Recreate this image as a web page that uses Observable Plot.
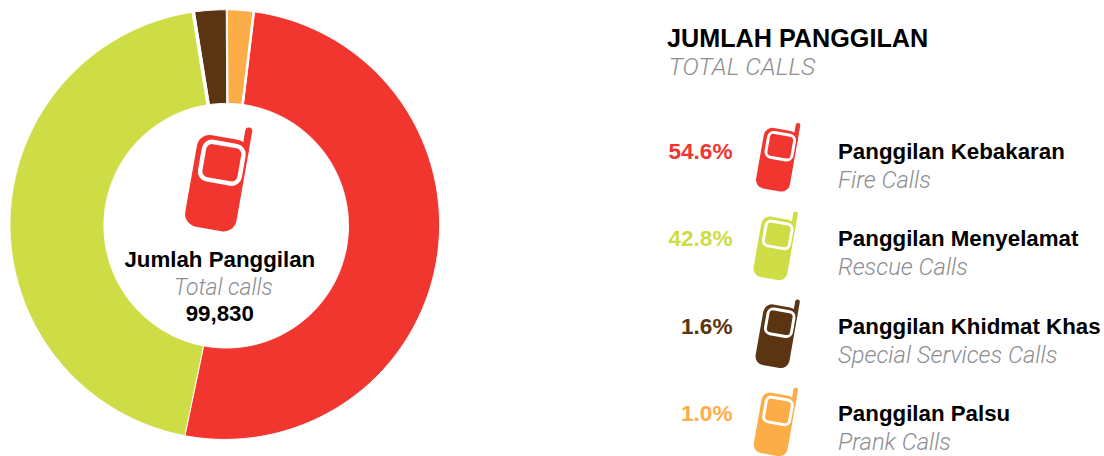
<!DOCTYPE html>
<html>
<head>
<meta charset="utf-8">
<script src="https://cdn.jsdelivr.net/npm/d3@7"></script>
<script src="https://cdn.jsdelivr.net/npm/@observablehq/plot@0.6"></script>
<style>
html,body{margin:0;padding:0;background:#fff;}
#page{position:relative;width:1104px;height:456px;overflow:hidden;}
#page svg{position:absolute;top:0;overflow:visible;background:transparent;}
</style>
</head>
<body>
<div id="page"></div>
<script>
// ---- data ----
const namesMs = ["Panggilan Kebakaran", "Panggilan Menyelamat", "Panggilan Khidmat Khas", "Panggilan Palsu"];
const namesEn = ["Fire Calls", "Rescue Calls", "Special Services Calls", "Prank Calls"];
const labelled = ["54.6%", "42.8%", "1.6%", "1.0%"];
// slice shares as drawn in the picture (in percent of the ring)
const drawnShare = [50.83, 44.67, 2.5, 2.0];
const palette = ["#F1352F", "#CEDD46", "#5B3412", "#FDAD47"];
const totalMs = "Jumlah Panggilan";
const totalEn = "Total calls";
const totalValue = "99,830";
const headingMs = "JUMLAH PANGGILAN";
const headingEn = "TOTAL CALLS";

// ---- shared ----
const page = document.getElementById("page");
const rad = Math.PI / 180;
const sans = "'Liberation Sans', Arial, sans-serif";
const light = "Roboto, 'Liberation Sans', sans-serif";
const grey = "#8c8e91";
const colorScale = {domain: namesMs, range: palette};

function phone(cx, cy, s, color) {
  const g = d3.create("svg:g").attr("transform", `translate(${cx},${cy}) rotate(10) scale(${s})`);
  g.append("rect").attr("x", -25.5).attr("y", -46).attr("width", 52).attr("height", 93).attr("rx", 13).attr("fill", color);
  g.append("rect").attr("x", 19.5).attr("y", -60).attr("width", 7).attr("height", 30).attr("rx", 3.5).attr("fill", color);
  g.append("rect").attr("x", -18).attr("y", -39.5).attr("width", 40).attr("height", 38).attr("rx", 8)
    .attr("fill", color).attr("stroke", "#fff").attr("stroke-width", 4.5);
  return g.node();
}

// ---- ring ----
const R = 214.8, cx = 224.8, cy = 224.6;
const innerR = 122.3, innerDx = 1.4, innerDy = 1.1;
const pie = d3.pie().sort(null).startAngle(7.8 * rad).endAngle(367.8 * rad);
// extra white gap, in px, on each side of a slice
const gaps = [[1, 0], [0, 1.5], [1.5, 0.8], [0.8, 1]];
const arcs = pie(drawnShare);
const ringPoints = arcs.flatMap((a, i) => {
  const n = Math.ceil((a.endAngle - a.startAngle) / (0.5 * rad));
  return d3.range(n + 1).map(k => {
    const f = k / n;
    const at = r => a.startAngle + gaps[i][0] / r + (a.endAngle - gaps[i][1] / r - a.startAngle - gaps[i][0] / r) * f;
    const tI = at(innerR), tO = at(R);
    return {
      name: namesMs[i],
      x1: (innerR * Math.sin(tI) + innerDx) / R, y1: (innerR * Math.cos(tI) - innerDy) / R,
      x2: Math.sin(tO), y2: Math.cos(tO)
    };
  });
});

const ring = Plot.plot({
  width: 450, height: 456, margin: 0,
  x: {axis: null, domain: [-cx / R, (450 - cx) / R], range: [0, 450]},
  y: {axis: null, domain: [cy / R, (cy - 456) / R], range: [0, 456]},
  color: colorScale,
  style: {background: "transparent"},
  marks: [
    Plot.area(ringPoints, {x1: "x1", y1: "y1", x2: "x2", y2: "y2", z: "name", fill: "name", stroke: "#fff", strokeWidth: 1}),
    (index, {x, y}) => phone(x(0) - 8.5, y(0) - 42, 1, palette[0]),
    Plot.text([totalMs], {x: () => 0, y: () => -42 / R, text: d => d, dx: -5.5, lineAnchor: "bottom", textAnchor: "middle",
      fontFamily: sans, fontWeight: 700, fontSize: 22.3, fill: "#000"}),
    Plot.text([totalEn], {x: () => 0, y: () => -69.5 / R, text: d => d, dx: -2, lineAnchor: "bottom", textAnchor: "middle",
      fontFamily: light, fontWeight: 300, fontStyle: "italic", fontSize: 23, fill: grey}),
    Plot.text([totalValue], {x: () => 0, y: () => -95.5 / R, text: d => d, dx: -5.5, lineAnchor: "bottom", textAnchor: "middle",
      fontFamily: sans, fontWeight: 700, fontSize: 22.3, fill: "#000"})
  ]
});
ring.style.left = "0px";
page.appendChild(ring);

// ---- key ----
const iconShift = [0, -2.5, -0.5, -2.3];
const iconDrop = [1, 2.2, 2.5, 3.2];
const rows = namesMs.map((name, i) => ({name, en: namesEn[i], pct: labelled[i]}));
const key = Plot.plot({
  width: 450, height: 456, margin: 0,
  x: {axis: null, domain: [654, 1104], range: [0, 450]},
  y: {axis: null, type: "point", padding: 0, round: false, domain: namesMs, range: [158.3, 420.8]},
  color: colorScale,
  style: {background: "transparent"},
  marks: [
    Plot.text([headingMs], {frameAnchor: "top-left", text: d => d, dx: 12.5, dy: 46.7, lineAnchor: "bottom", textAnchor: "start",
      fontFamily: sans, fontWeight: 700, fontSize: 25.2, fill: "#000"}),
    Plot.text([headingEn], {frameAnchor: "top-left", text: d => d, dx: 14, dy: 74, lineAnchor: "bottom", textAnchor: "start",
      fontFamily: light, fontWeight: 300, fontStyle: "italic", fontSize: 24.7, fill: grey}),
    Plot.text(rows, {x: () => 732, y: "name", text: "pct", fill: "name", lineAnchor: "bottom", textAnchor: "end",
      fontFamily: sans, fontWeight: 700, fontSize: 22.6}),
    (index, {x, y}) => {
      const g = d3.create("svg:g");
      namesMs.forEach((n, i) => g.append(() => phone(x(776.6) + iconShift[i], y(n) + iconDrop[i], 0.66, palette[i])));
      return g.node();
    },
    Plot.text(rows, {x: () => 837.5, y: "name", text: "name", fill: "#000", lineAnchor: "bottom", textAnchor: "start",
      fontFamily: sans, fontWeight: 700, fontSize: 22.3}),
    Plot.text(rows, {x: () => 837.5, y: "name", dy: 29, text: "en", fill: grey, lineAnchor: "bottom", textAnchor: "start",
      fontFamily: light, fontWeight: 300, fontStyle: "italic", fontSize: 23.8})
  ]
});
key.style.left = "654px";
page.appendChild(key);
</script>
</body>
</html>
